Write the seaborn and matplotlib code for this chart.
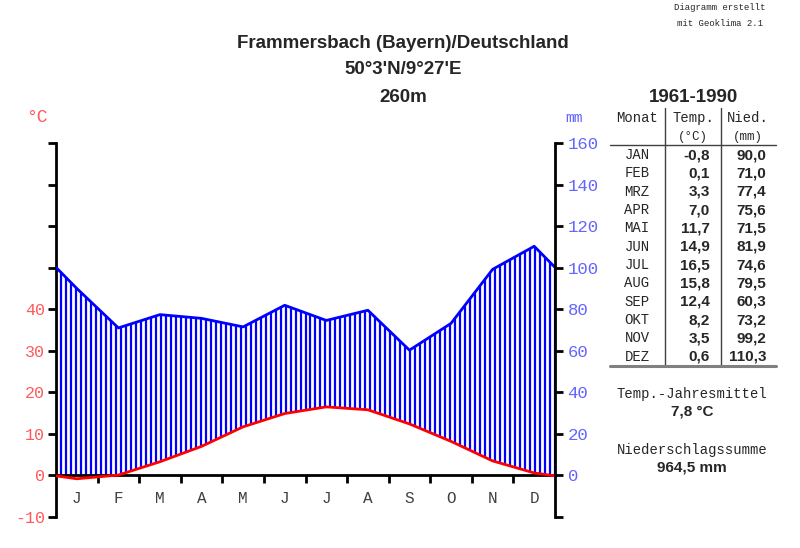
import numpy as np
import pandas as pd
import matplotlib
matplotlib.use("Agg")
import matplotlib.pyplot as plt
from matplotlib.lines import Line2D
import seaborn as sns

# Klimadaten 1961-1990
monate_kurz = ["J", "F", "M", "A", "M", "J", "J", "A", "S", "O", "N", "D"]
monate = ["JAN", "FEB", "MRZ", "APR", "MAI", "JUN", "JUL", "AUG", "SEP", "OKT", "NOV", "DEZ"]
temp = [-0.8, 0.1, 3.3, 7.0, 11.7, 14.9, 16.5, 15.8, 12.4, 8.2, 3.5, 0.6]
nied = [90.0, 71.0, 77.4, 75.6, 71.5, 81.9, 74.6, 79.5, 60.3, 73.2, 99.2, 110.3]
temp_ticks = [-10, 0, 10, 20, 30, 40, 50, 60, 70, 80]
nied_ticks = [-20, 0, 20, 40, 60, 80, 100, 120, 140, 160]

W, H = 800, 548
sns.set_style("white")
plt.rcParams["font.family"] = ["Liberation Sans", "DejaVu Sans"]
MONO = ["Liberation Mono", "DejaVu Sans Mono"]

fig = plt.figure(figsize=(W / 100, H / 100), dpi=100)
ax = fig.add_axes([56 / W, 1 - 517 / H, (555 - 56) / W, (517 - 143) / H])
ax2 = ax.twinx()

# Kurven: Monatsmitte, an den Rändern Mittel aus Dez/Jan
x_mitte = np.arange(12) + 0.5
x_kurve = np.concatenate([[0], x_mitte, [12]])
t_rand = (temp[0] + temp[-1]) / 2
n_rand = (nied[0] + nied[-1]) / 2
t_kurve = np.concatenate([[t_rand], temp, [t_rand]])
n_kurve = np.concatenate([[n_rand], nied, [n_rand]]) / 2  # 20 mm = 10 °C

df = pd.DataFrame({"x": x_kurve, "Temp": t_kurve, "Nied": n_kurve})

# Schraffur (humide Zeit)
xs = np.linspace(0, 12, 101)
unten = np.maximum(np.interp(xs, x_kurve, t_kurve), 0)
oben = np.interp(xs, x_kurve, n_kurve)
ax.vlines(xs, unten, oben, color="#0000ff", lw=1.6, zorder=2)

sns.lineplot(data=df, x="x", y="Nied", sort=False, color="#0000ff", lw=2, ax=ax, zorder=3)
sns.lineplot(data=df, x="x", y="Temp", sort=False, color="#ff0000", lw=2, ax=ax, zorder=4)

ax.set_xlim(0, 12)
ax.set_ylim(-10, 80)
ax2.set_ylim(-20, 160)
ax.set_xlabel("")
ax.set_ylabel("")

for a in (ax, ax2):
    for s in a.spines.values():
        s.set_visible(False)

ax.spines["left"].set_visible(True)
ax.spines["left"].set_linewidth(2)
ax.spines["left"].set_color("black")
ax.spines["bottom"].set_visible(True)
ax.spines["bottom"].set_position(("data", 0))
ax.spines["bottom"].set_linewidth(2)
ax.spines["bottom"].set_color("black")
ax2.spines["right"].set_visible(True)
ax2.spines["right"].set_linewidth(2)
ax2.spines["right"].set_color("black")

ax.set_yticks(temp_ticks)
ax.set_yticklabels([str(t) if t <= 40 else "" for t in temp_ticks],
                   family=MONO, fontsize=12, color="#ff5a5a")
ax.tick_params(axis="y", direction="out", length=6, width=2, color="black", pad=2, left=True)

ax2.set_yticks(nied_ticks)
ax2.set_yticklabels([str(n) if n >= 0 else "" for n in nied_ticks],
                    family=MONO, fontsize=12.5, color="#6464ff")
ax2.tick_params(axis="y", direction="out", length=6, width=2, color="black", pad=3, right=True)

ax.set_xticks(np.arange(1, 12))
ax.set_xticklabels([])
ax.set_xticks(x_mitte, minor=True)
ax.set_xticklabels(monate_kurz, minor=True, family=MONO, fontsize=11.5, color="#404040")
ax.tick_params(axis="x", which="major", direction="out", length=6, width=2, color="black", bottom=True)
ax.tick_params(axis="x", which="minor", length=0, pad=11)


def ft(x, y, s, **kw):
    fig.text(x / W, 1 - y / H, s, **kw)


# Einheiten
ft(37, 118, "°C", family=MONO, fontsize=13, color="#ff5a5a", ha="center", va="center")
ft(574, 118, "mm", family=MONO, fontsize=10.5, color="#6464ff", ha="center", va="center")

# Titel
ft(403, 43, "Frammersbach (Bayern)/Deutschland", fontsize=13.5, weight="bold", ha="center", va="center")
ft(403, 70, "50°3'N/9°27'E", fontsize=13.5, weight="bold", ha="center", va="center")
ft(403, 98, "260m", fontsize=13.5, weight="bold", ha="center", va="center")
ft(720, 7, "Diagramm erstellt", family=MONO, fontsize=6.5, ha="center", va="center")
ft(720, 23, "mit Geoklima 2.1", family=MONO, fontsize=6.5, ha="center", va="center")

# Tabelle
ft(693, 97, "1961-1990", fontsize=13.5, weight="bold", ha="center", va="center")
ft(637, 118, "Monat", family=MONO, fontsize=10, ha="center", va="center")
ft(693, 118, "Temp.", family=MONO, fontsize=10, ha="center", va="center")
ft(748, 118, "Nied.", family=MONO, fontsize=10, ha="center", va="center")
ft(693, 137, "(°C)", family=MONO, fontsize=9, ha="center", va="center")
ft(748, 137, "(mm)", family=MONO, fontsize=9, ha="center", va="center")

for i, m in enumerate(monate):
    y = 155 + i * 18.35
    ft(637, y, m, family=MONO, fontsize=10, ha="center", va="center")
    ft(710, y, f"{temp[i]:.1f}".replace(".", ","), fontsize=11, weight="bold", ha="right", va="center")
    ft(766, y, f"{nied[i]:.1f}".replace(".", ","), fontsize=11, weight="bold", ha="right", va="center")

for xl in (665, 721):
    fig.add_artist(Line2D([xl / W, xl / W], [1 - 108 / H, 1 - 366 / H], color="#404040", lw=1))
fig.add_artist(Line2D([610 / W, 776 / W], [1 - 145 / H, 1 - 145 / H], color="#404040", lw=1))
fig.add_artist(Line2D([610 / W, 776 / W], [1 - 366 / H, 1 - 366 / H], color="#808080", lw=2.2))

# Jahreswerte
t_mittel = np.mean(temp)
n_summe = np.sum(nied)
ft(692, 394, "Temp.-Jahresmittel", family=MONO, fontsize=10, ha="center", va="center")
ft(692, 412, f"{t_mittel:.1f} °C".replace(".", ","), fontsize=11, weight="bold", ha="center", va="center")
ft(692, 450, "Niederschlagssumme", family=MONO, fontsize=10, ha="center", va="center")
ft(692, 468, f"{n_summe:.1f} mm".replace(".", ","), fontsize=11, weight="bold", ha="center", va="center")

fig.savefig("out.png", dpi=100)
